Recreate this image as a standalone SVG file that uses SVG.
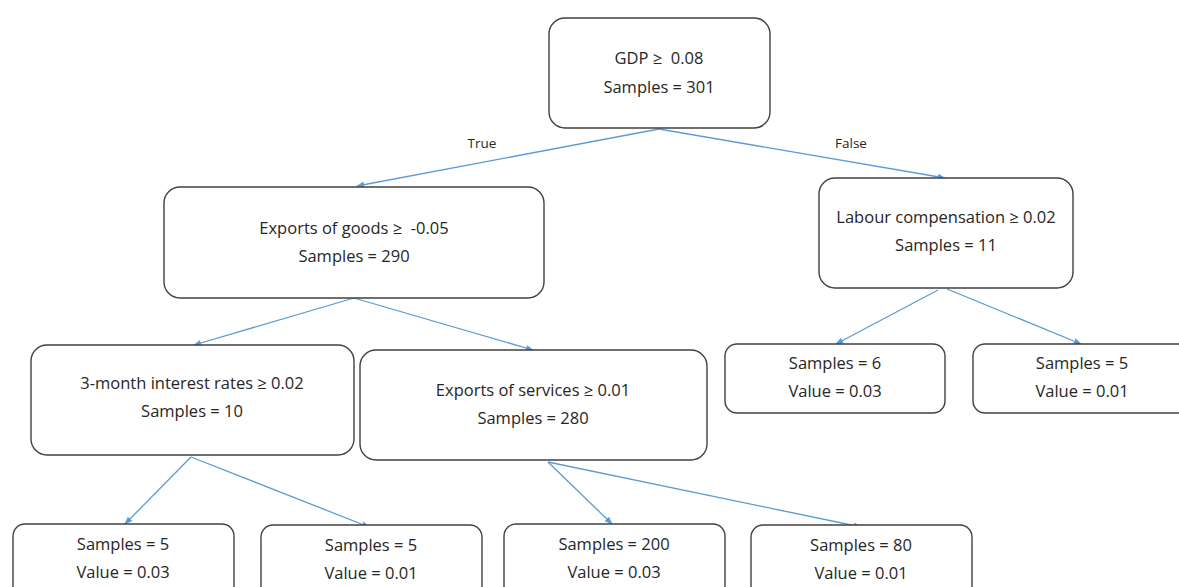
<svg xmlns="http://www.w3.org/2000/svg" width="1179" height="587" viewBox="0 0 1179 587">
<defs>
<style>
.n{fill:#fff;stroke:#404040;stroke-width:1.4}
.t{font-family:"Open Sans","Liberation Sans",sans-serif;font-size:16.5px;fill:#262626;text-anchor:middle;white-space:pre}
.l{font-family:"Open Sans","Liberation Sans",sans-serif;font-size:13.5px;fill:#262626;text-anchor:middle}
.c{stroke:#5B9BD5;stroke-width:1.3;fill:none;marker-end:url(#a)}
</style>
<marker id="a" viewBox="0 0 10 10" refX="9" refY="5" markerWidth="8" markerHeight="8" orient="auto" markerUnits="userSpaceOnUse">
<path d="M0,1 L10,5 L0,9 z" fill="#5B9BD5"/>
</marker>
</defs>
<rect width="1179" height="587" fill="#fff"/>
<g id="connectors">
<line class="c" x1="659" y1="129" x2="357" y2="186"/>
<line class="c" x1="659" y1="129" x2="945" y2="178"/>
<line class="c" x1="354" y1="298" x2="194" y2="345"/>
<line class="c" x1="354" y1="298" x2="533" y2="350"/>
<line class="c" x1="938" y1="290" x2="836" y2="344"/>
<line class="c" x1="947" y1="289" x2="1081" y2="344"/>
<line class="c" x1="191" y1="457" x2="125" y2="524"/>
<line class="c" x1="191" y1="457" x2="369" y2="527"/>
<line class="c" x1="548" y1="462" x2="612" y2="524"/>
<line class="c" x1="548" y1="462" x2="861" y2="527"/>
<text class="l" x="482" y="148">True</text>
<text class="l" x="851" y="148">False</text>
</g>
<g id="root"><rect class="n" x="549" y="18" width="221" height="110" rx="16"/>
<text class="t" x="659" y="64" xml:space="preserve">GDP ≥  0.08</text><text class="t" x="659" y="93">Samples = 301</text></g>
<g id="n_goods"><rect class="n" x="164" y="187" width="380" height="111" rx="16"/>
<text class="t" x="354" y="234" xml:space="preserve">Exports of goods ≥  -0.05</text><text class="t" x="354" y="262">Samples = 290</text></g>
<g id="n_labour"><rect class="n" x="819" y="178" width="254" height="110" rx="16"/>
<text class="t" x="946" y="223">Labour compensation ≥ 0.02</text><text class="t" x="946" y="251">Samples = 11</text></g>
<g id="n_interest"><rect class="n" x="31" y="345" width="323" height="110" rx="16"/>
<text class="t" x="192" y="389">3-month interest rates ≥ 0.02</text><text class="t" x="192" y="417">Samples = 10</text></g>
<g id="n_services"><rect class="n" x="360" y="350" width="347" height="110" rx="16"/>
<text class="t" x="533" y="396">Exports of services ≥ 0.01</text><text class="t" x="533" y="424">Samples = 280</text></g>
<g id="leaf6"><rect class="n" x="725" y="344" width="220" height="69" rx="12"/>
<text class="t" x="835" y="369">Samples = 6</text><text class="t" x="835" y="397">Value = 0.03</text></g>
<g id="leaf5b"><rect class="n" x="973" y="344" width="220" height="69" rx="12"/>
<text class="t" x="1082" y="369">Samples = 5</text><text class="t" x="1082" y="397">Value = 0.01</text></g>
<g id="leaf5a"><rect class="n" x="13" y="524" width="221" height="80" rx="12"/>
<text class="t" x="123" y="550">Samples = 5</text><text class="t" x="123" y="578">Value = 0.03</text></g>
<g id="leaf5c"><rect class="n" x="261" y="525" width="221" height="80" rx="12"/>
<text class="t" x="371" y="551">Samples = 5</text><text class="t" x="371" y="579">Value = 0.01</text></g>
<g id="leaf200"><rect class="n" x="504" y="524" width="221" height="80" rx="12"/>
<text class="t" x="614" y="550">Samples = 200</text><text class="t" x="614" y="578">Value = 0.03</text></g>
<g id="leaf80"><rect class="n" x="751" y="525" width="221" height="80" rx="12"/>
<text class="t" x="861" y="551">Samples = 80</text><text class="t" x="861" y="579">Value = 0.01</text></g>
</svg>
